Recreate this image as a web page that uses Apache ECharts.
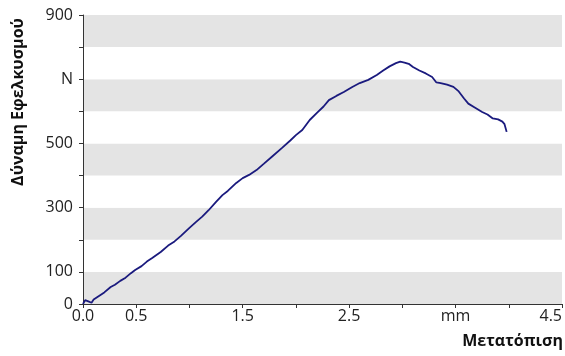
<!DOCTYPE html>
<html>
<head>
<meta charset="utf-8">
<script src="https://cdn.jsdelivr.net/npm/echarts@6/dist/echarts.min.js"></script>
<style>html,body{margin:0;padding:0;background:#fff}#c{width:565px;height:356px}</style>
</head>
<body>
<div id="c"></div>
<script>
const displacement = [0.00,0.02,0.05,0.08,0.10,0.15,0.20,0.26,0.30,0.35,0.40,0.45,0.49,0.55,0.60,0.65,0.73,0.80,0.86,0.92,1.00,1.06,1.12,1.18,1.25,1.31,1.36,1.44,1.50,1.56,1.63,1.70,1.78,1.87,1.95,2.00,2.06,2.13,2.20,2.26,2.31,2.38,2.45,2.53,2.60,2.68,2.76,2.82,2.88,2.94,2.98,3.02,3.06,3.10,3.16,3.22,3.28,3.32,3.36,3.42,3.48,3.53,3.58,3.62,3.68,3.75,3.80,3.85,3.90,3.94,3.96,3.98];
const force = [0,12,8,4,14,25,36,53,60,72,82,96,106,118,132,143,162,182,195,212,237,255,272,292,318,339,352,377,392,402,417,437,460,486,510,526,542,573,596,615,635,648,660,676,688,698,713,727,740,750,755,752,748,738,727,718,707,690,688,683,676,662,640,624,612,598,590,578,575,568,560,536];
const yTickValues = [0,100,200,300,400,500,600,700,800,900];
const yTickLabels = ['0','100','','300','','500','','N','','900'];
const xTickValues = [0,0.5,1,1.5,2,2.5,3,3.5,4,4.5];
const xTickLabels = ['0.0','0.5','','1.5','','2.5','','mm','','4.5'];
const yTitle = 'Δύναμη Εφελκυσμού';
const xTitle = 'Μετατόπιση';

const chart = echarts.init(document.getElementById('c'));
const font = '"Open Sans", "Liberation Sans", sans-serif';
function lookup(vals, labels, v){
  for (let i=0;i<vals.length;i++){ if (Math.abs(vals[i]-v)<1e-6) return labels[i]; }
  return '';
}
chart.setOption({
  animation:false,
  backgroundColor:'#fff',
  grid:{left:83,right:2,top:15,bottom:52},
  xAxis:{
    type:'value',min:0,max:4.5,interval:0.5,
    axisLine:{show:true,lineStyle:{color:'#333',width:1}},
    axisTick:{show:true,length:4,lineStyle:{color:'#333'}},
    splitLine:{show:false},
    axisLabel:{color:'#222',fontSize:16,fontFamily:font,margin:4,alignMaxLabel:'right',
      formatter:v=>lookup(xTickValues,xTickLabels,v)}
  },
  yAxis:{
    type:'value',min:0,max:900,interval:100,
    axisLine:{show:true,lineStyle:{color:'#333',width:1}},
    axisTick:{show:true,length:4,lineStyle:{color:'#333'}},
    splitLine:{show:false},
    splitArea:{show:true,areaStyle:{color:['#e4e4e4','#ffffff']}},
    axisLabel:{color:'#222',fontSize:16,fontFamily:font,margin:10,
      formatter:v=>lookup(yTickValues,yTickLabels,v)}
  },
  graphic:[
    {type:'text',x:18,y:102,rotation:Math.PI/2,
     style:{text:yTitle,font:'bold 16px '+font,fill:'#111',align:'center',verticalAlign:'middle'}},
    {type:'text',x:563,y:341,
     style:{text:xTitle,font:'bold 16px '+font,fill:'#111',align:'right',verticalAlign:'middle'}}
  ],
  series:[{
    type:'line',
    data:displacement.map((x,i)=>[x,force[i]]),
    showSymbol:false,
    lineStyle:{color:'#1a1a7e',width:1.8},
    itemStyle:{color:'#1a1a7e'}
  }]
});
</script>
</body>
</html>
